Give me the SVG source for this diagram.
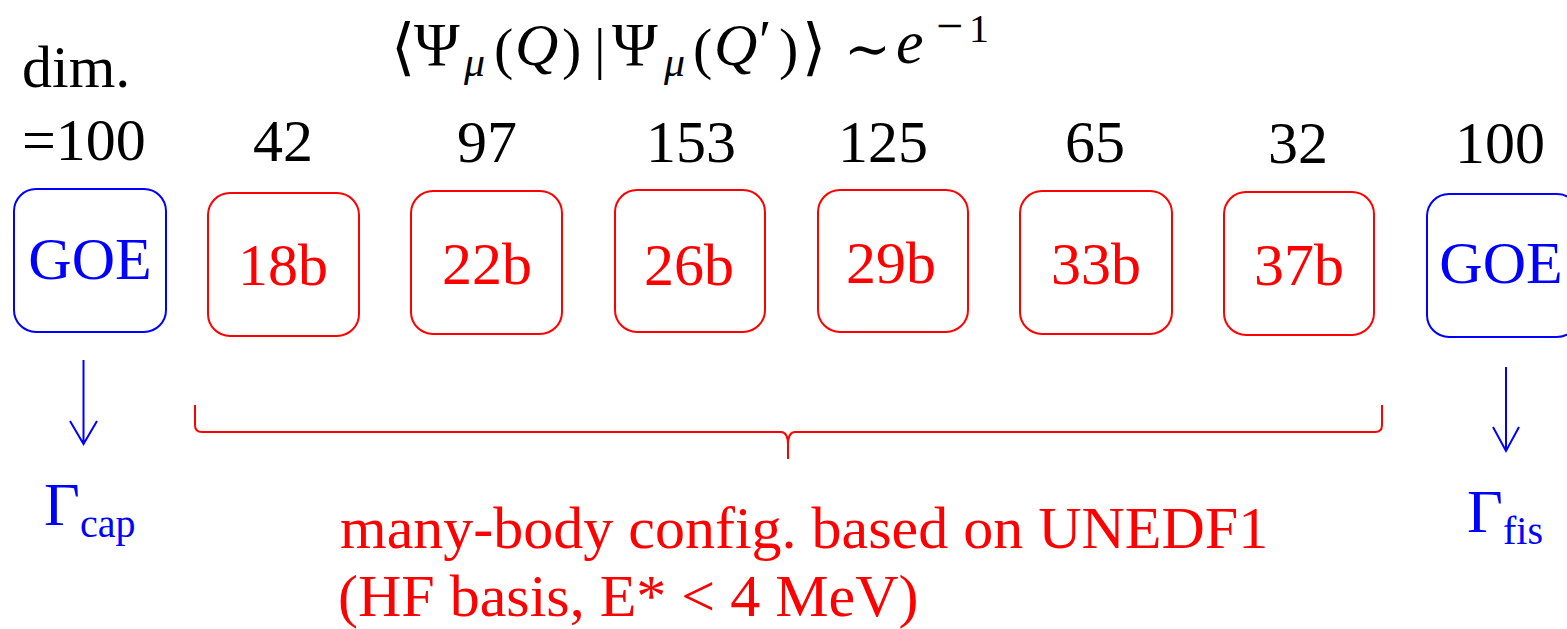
<svg xmlns="http://www.w3.org/2000/svg" width="1567" height="629" viewBox="0 0 1567 629">
<style>
text{font-family:"Liberation Serif","DejaVu Serif",serif}
.lbl{font-family:"Liberation Serif","DejaVu Serif",serif;font-size:60px;fill:#000}
.cnt{text-anchor:middle}
.r{fill:#ff0000}
.b{fill:#0000ff}
.boxr{fill:none;stroke:#ff0000;stroke-width:2}
.boxb{fill:none;stroke:#0000ff;stroke-width:2}
.f{font-size:58px;fill:#000}
.it{font-style:italic}
.ang{font-family:"DejaVu Serif",serif;font-size:62px}
.sub{font-size:42px}
.sup{font-size:40px}
</style>
<rect width="1567" height="629" fill="#fff"/>
<text class="f">
<tspan x="391" y="68" class="ang">⟨</tspan><tspan x="414" y="65" font-size="62">Ψ</tspan><tspan x="464" y="76" class="it sub">μ</tspan><tspan x="494" y="68">(</tspan><tspan x="515" y="65" class="it" font-size="60">Q</tspan><tspan x="562" y="68">)</tspan><tspan x="594" y="68">|</tspan><tspan x="612" y="65" font-size="62">Ψ</tspan><tspan x="664" y="76" class="it sub">μ</tspan><tspan x="693" y="68">(</tspan><tspan x="714" y="65" class="it" font-size="60">Q</tspan><tspan x="759" y="60" font-size="56">′</tspan><tspan x="779" y="68">)</tspan><tspan x="802" y="68" class="ang">⟩</tspan><tspan x="844" y="68" font-family="DejaVu Serif" font-size="56">∼</tspan><tspan x="896" y="63" class="it" font-size="62">e</tspan><tspan x="936" y="42" font-size="48">−</tspan><tspan x="969" y="42" class="sup">1</tspan>
</text>
<g id="dim-label">
<text class="lbl" x="22" y="87">dim.</text>
<text class="lbl" x="22" y="160">=100</text>
</g>
<g id="goe-left">
<rect class="boxb" x="14" y="189" width="152" height="143" rx="22"/>
<text class="lbl b cnt" x="90" y="279">GOE</text>
</g>
<g id="n18b">
<text class="lbl cnt" x="283" y="161">42</text>
<rect class="boxr" x="208" y="193" width="151" height="143" rx="22"/>
<text class="lbl r cnt" x="283" y="285">18b</text>
</g>
<g id="n22b">
<text class="lbl cnt" x="487" y="162">97</text>
<rect class="boxr" x="411" y="191" width="151" height="143" rx="22"/>
<text class="lbl r cnt" x="487" y="284">22b</text>
</g>
<g id="n26b">
<text class="lbl cnt" x="691" y="162">153</text>
<rect class="boxr" x="615" y="190" width="150" height="142" rx="22"/>
<text class="lbl r cnt" x="689" y="285">26b</text>
</g>
<g id="n29b">
<text class="lbl cnt" x="883" y="162">125</text>
<rect class="boxr" x="818" y="190" width="150" height="142" rx="22"/>
<text class="lbl r cnt" x="891" y="283">29b</text>
</g>
<g id="n33b">
<text class="lbl cnt" x="1095" y="162">65</text>
<rect class="boxr" x="1020" y="191" width="152" height="143" rx="22"/>
<text class="lbl r cnt" x="1096" y="284">33b</text>
</g>
<g id="n37b">
<text class="lbl cnt" x="1298" y="163">32</text>
<rect class="boxr" x="1224" y="192" width="150" height="143" rx="22"/>
<text class="lbl r cnt" x="1299" y="285">37b</text>
</g>
<g id="goe-right">
<text class="lbl cnt" x="1500" y="163">100</text>
<rect class="boxb" x="1427" y="194" width="152" height="143" rx="22"/>
<text class="lbl b cnt" x="1501" y="283">GOE</text>
</g>
<g id="connectors" fill="none" stroke-width="2">
<path stroke="#0000ff" d="M83.5,360 L83.5,444 M70,421 L83.5,444 L97,421"/>
<path stroke="#0000ff" d="M1506,367 L1506,451 M1493,427 L1506,451 L1519,427"/>
<path stroke="#ff0000" d="M195,405 L195,425 Q195,432 202,432 L781,432 Q788,432 788,445 L788,459 M788,445 Q788,432 795,432 L1375,432 Q1382,432 1382,425 L1382,405"/>
</g>
<g id="gamma-cap">
<text class="b" x="44" y="525" font-size="62">Γ<tspan x="80" y="537" font-size="40">cap</tspan></text>
</g>
<g id="gamma-fis">
<text class="b" x="1467" y="532" font-size="62">Γ<tspan x="1503" y="544" font-size="40">fis</tspan></text>
</g>
<g id="caption">
<text class="lbl r" x="340" y="548">many-body config. based on UNEDF1</text>
<text class="lbl r" x="338" y="616">(HF basis, E* &lt; 4 MeV)</text>
</g>
</svg>
